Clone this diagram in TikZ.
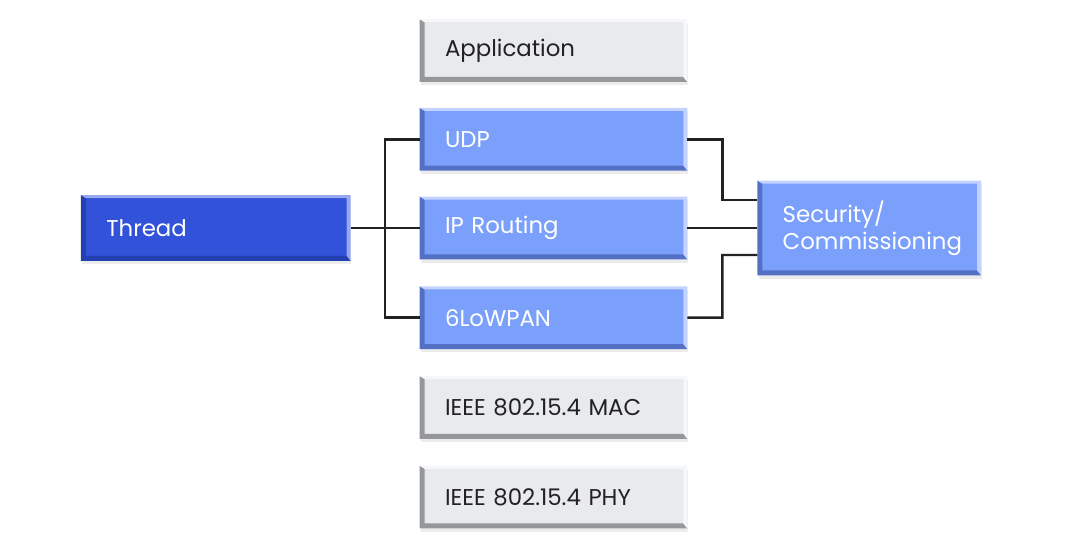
\documentclass[tikz,border=0pt]{standalone}
\usepackage{fontspec}
\setmainfont{Poppins}
\usepackage{xcolor}
\definecolor{layerGray}{HTML}{E9EAEE}
\definecolor{layerGrayDark}{HTML}{96979B}
\definecolor{layerGrayLight}{HTML}{F6F7F9}
\definecolor{threadBlue}{HTML}{3152D9}
\definecolor{threadBlueDark}{HTML}{2440B0}
\definecolor{threadBlueLight}{HTML}{95A8F0}
\definecolor{stackBlue}{HTML}{7BA0FB}
\definecolor{stackBlueDark}{HTML}{5470C5}
\definecolor{stackBlueLight}{HTML}{C3D2FF}
\definecolor{linkGray}{HTML}{222222}
\usetikzlibrary{positioning, calc, shadows}

% bevelled edges: dark on left/bottom, light on top/right
\newcommand{\bevel}[3]{%
  \fill[#2] (#1.north west) -- (#1.south west) -- (#1.south east)
    -- ([shift={(-0.08,0.1)}]#1.south east) -- ([shift={(0.1,0.1)}]#1.south west)
    -- ([shift={(0.1,-0.06)}]#1.north west) -- cycle;
  \fill[#3] (#1.north west) -- (#1.north east) -- (#1.south east)
    -- ([shift={(-0.08,0.1)}]#1.south east) -- ([shift={(-0.08,-0.06)}]#1.north east)
    -- ([shift={(0.1,-0.06)}]#1.north west) -- cycle;
}

\begin{document}
\begin{tikzpicture}[
		node distance=0.54cm,
		box/.style={
			rectangle,
			inner xsep=0.5cm,
			inner ysep=0pt,
			align=left,
			font=\fontsize{13}{15.3}\selectfont,
			drop shadow={opacity=0.15, shadow xshift=0.5pt, shadow yshift=-2pt}
		},
		layer/.style={box, text width=4.34cm, minimum height=1.24cm},
		graylayer/.style={layer, fill=layerGray, text=linkGray},
		bluelayer/.style={layer, fill=stackBlue, text=white},
		link/.style={draw=linkGray, line width=1.4pt}
		]
		
		\useasboundingbox (0,0) rectangle (21.6,-11.04);
		
		\node[bluelayer] (ip) at (11.07,-4.56) {IP Routing};
		\node[bluelayer, above=0.52cm of ip] (udp) {UDP};
		\node[graylayer, above=0.52cm of udp] (app) {Application};
		\node[bluelayer, below=of ip] (lowpan) {6LoWPAN};
		\node[graylayer, below=of lowpan] (mac) {IEEE 802.15.4 MAC};
		\node[graylayer, below=of mac] (phy) {IEEE 802.15.4 PHY};
		
		\node[box, fill=threadBlue, text=white, text width=4.38cm, minimum height=1.3cm,
			left=1.38cm of ip] (thread) {Thread};
		\node[box, fill=stackBlue, text=white, text width=3.46cm, minimum height=1.88cm,
			right=1.4cm of ip] (sec) {Security/\\Commissioning};
		
		\bevel{app}{layerGrayDark}{layerGrayLight}
		\bevel{udp}{stackBlueDark}{stackBlueLight}
		\bevel{ip}{stackBlueDark}{stackBlueLight}
		\bevel{lowpan}{stackBlueDark}{stackBlueLight}
		\bevel{mac}{layerGrayDark}{layerGrayLight}
		\bevel{phy}{layerGrayDark}{layerGrayLight}
		\bevel{thread}{threadBlueDark}{threadBlueLight}
		\bevel{sec}{stackBlueDark}{stackBlueLight}
		
		\coordinate (lj) at ($(thread.east)!0.5!(ip.west)$);
		\coordinate (rj) at ($(ip.east)!0.5!(sec.west)$);
		
		\draw[link] (thread.east) -- (ip.west);
		\draw[link] (lj) |- (udp.west);
		\draw[link] (lj) |- (lowpan.west);
		
		\draw[link] (ip.east) -- (sec.west);
		\draw[link] (udp.east) -| ($(rj)+(0,0.56)$) -- ([yshift=0.56cm]sec.west);
		\draw[link] (lowpan.east) -| ($(rj)+(0,-0.54)$) -- ([yshift=-0.54cm]sec.west);
		
	\end{tikzpicture}
\end{document}
